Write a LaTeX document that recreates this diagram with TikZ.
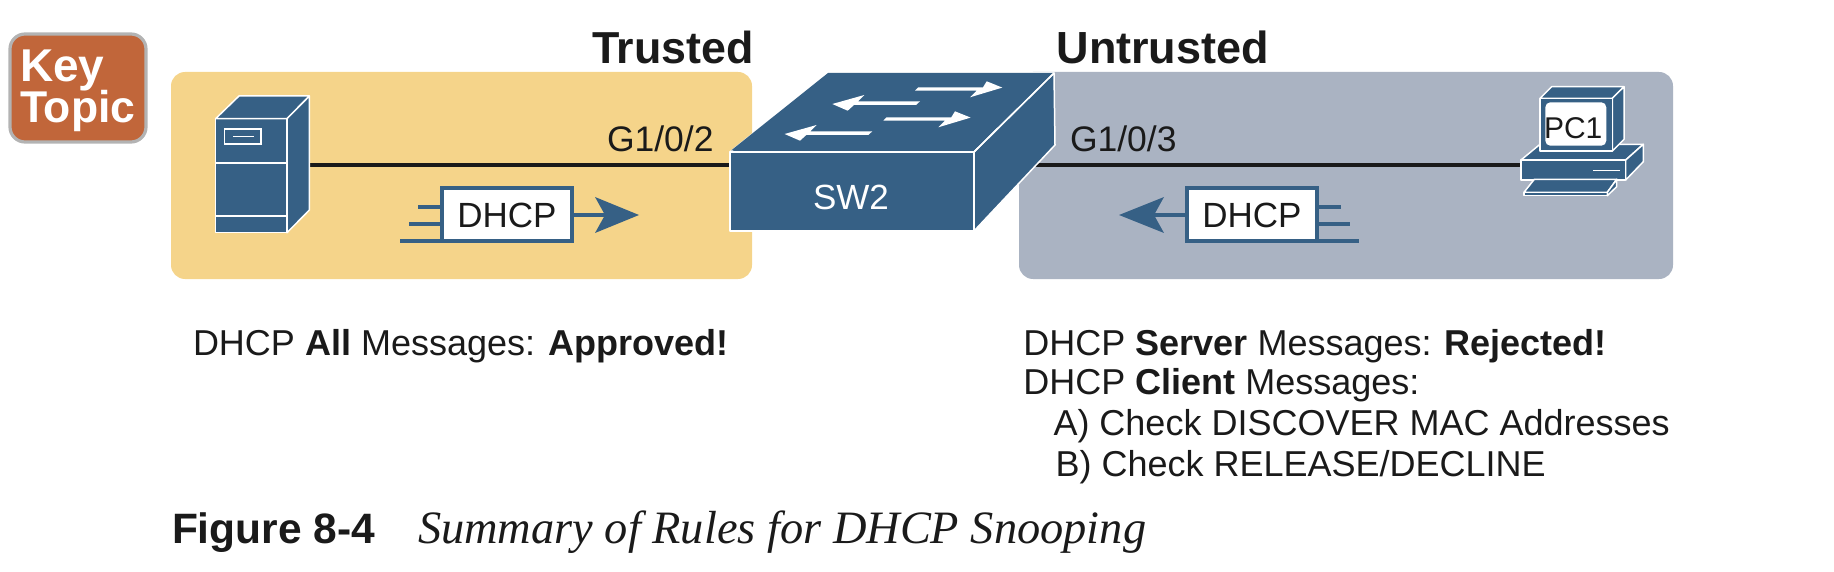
\documentclass[tikz,border=0pt]{standalone}
\usepackage{fontspec}
\setmainfont{Liberation Sans}
\newfontfamily\capserif{Liberation Serif}
\definecolor{ciscoblue}{HTML}{366085}
\definecolor{paneltrust}{HTML}{F5D48A}
\definecolor{paneluntrust}{HTML}{AAB3C2}
\definecolor{keyfill}{HTML}{C1663A}
\definecolor{keyedge}{HTML}{B3B3B3}
\definecolor{ink}{HTML}{1A1A1A}
\newcommand{\fs}[1]{\fontsize{#1}{#1}\selectfont}
\tikzset{
  panel/.style={rounded corners=14pt,draw=none},
  icon/.style={fill=ciscoblue,draw=white,line width=1.5pt,line join=round},
  iconline/.style={draw=white,line width=1.5pt},
  wire/.style={draw=ink,line width=4.4pt},
  stub/.style={draw=ciscoblue,line width=4pt},
  msgbox/.style={fill=white,draw=ciscoblue,line width=4pt,outer sep=0pt},
  lbl/.style={anchor=base west,inner sep=0pt,outer sep=0pt,text=ink},
  lblw/.style={anchor=base west,inner sep=0pt,outer sep=0pt,text=white},
  swarrow/.style={fill=white,draw=none},
  msgarrow/.style={fill=ciscoblue,draw=none}
}
\begin{document}
\begin{tikzpicture}[x=1pt,y=-1pt]
\useasboundingbox (0,0) rectangle (1834,572);
% key topic
\draw[fill=keyfill,draw=keyedge,line width=3.2pt,rounded corners=15pt] (10,34) rectangle (146,142);
\node[lblw] (keyA) at (20,82) {\fs{46}\bfseries Key};
\node[lblw] (keyB) at (20,122.5) {\fs{44.5}\bfseries Topic};
% panels
\fill[paneltrust,panel] (171,72) rectangle (752,279);
\fill[paneluntrust,panel] (1019,72) rectangle (1673,279);
% titles
\node[lbl] (trusted) at (592,63.5) {\fs{44.8}\bfseries Trusted};
\node[lbl] (untrusted) at (1056.5,63.5) {\fs{45}\bfseries Untrusted};
% anchors for wires
\coordinate (srvport) at (309,165);
\coordinate (swleft) at (730,165);
\coordinate (swright) at (1025,165);
\coordinate (pcport) at (1521,165);
\draw[wire] (srvport) -- (swleft);
\draw[wire] (swright) -- (pcport);
% server
\draw[icon] (215.6,118.7) rectangle (287,232.7);
\draw[icon] (215.6,118.7) -- (239,96) -- (309.4,96) -- (287,118.7) -- cycle;
\draw[icon] (287,118.7) -- (309.4,96) -- (309.4,210) -- (287,232.7) -- cycle;
\draw[iconline] (215.6,163) -- (287,163);
\draw[iconline] (215.6,216) -- (287,216);
\draw[iconline] (224.5,129) rectangle (261,144);
\draw[iconline] (233,136.5) -- (253.6,136.5);
% switch
\draw[icon] (730,152) -- (828,73) -- (1054,73) -- (974,152) -- cycle;
\draw[icon] (974,152) -- (1054,73) -- (1055,145) -- (974,231) -- cycle;
\draw[icon] (730,152) rectangle (974,231);
\fill[ciscoblue] (731,150.5) -- (828,73) -- (1054,73) -- (1052,74) -- (973,150.5) -- cycle;
\draw[white,line width=1.5pt] (1054,73) -- (974,152);
\draw[white,line width=1.5pt] (730,152) -- (974,152);
\fill[swarrow] (915,90.7) -- (918.3,87.3) -- (983,87.3) -- (986.7,81.3) -- (1002.3,87.6) -- (970,97.3) -- (976.7,90.7) -- cycle;
\fill[swarrow,shift={(-31.7,30)}] (915,90.7) -- (918.3,87.3) -- (983,87.3) -- (986.7,81.3) -- (1002.3,87.6) -- (970,97.3) -- (976.7,90.7) -- cycle;
\fill[swarrow] (832.3,104) -- (864.3,95) -- (858,101.3) -- (920,101.3) -- (916,105) -- (854,105) -- (847.7,110.7) -- cycle;
\fill[swarrow,shift={(-47.7,30)}] (832.3,104) -- (864.3,95) -- (858,101.3) -- (920,101.3) -- (916,105) -- (854,105) -- (847.7,110.7) -- cycle;
\node[lblw,anchor=base] (sw2) at (851,210) {\fs{35}SW2};
% port labels
\node[lbl] (g2) at (607,152) {\fs{35.5}G1/0/2};
\node[lbl] (g3) at (1070,152) {\fs{35.5}G1/0/3};
% left message
\draw[stub] (418,207) -- (441,207);
\draw[stub] (409,224) -- (441,224);
\draw[stub] (400,241.5) -- (441,241.5);
\node[msgbox,minimum width=130pt,minimum height=53pt,inner sep=0pt,anchor=north west] (msgL) at (442,188) {};
\node[lbl,anchor=base] (msgLt) at (msgL.center |- 0,228) {\fs{35}DHCP};
\coordinate (msgLtail) at (606,215);
\draw[stub] (msgL.east |- msgLtail) -- (msgLtail);
\fill[msgarrow] (639,215) -- (595,197) -- (605,215) -- (595,233) -- cycle;
% right message
\draw[stub] (1318,207) -- (1341,207);
\draw[stub] (1318,224) -- (1350,224);
\draw[stub] (1318,241.5) -- (1359,241.5);
\node[msgbox,minimum width=130pt,minimum height=53pt,inner sep=0pt,anchor=north west] (msgR) at (1187,188) {};
\node[lbl,anchor=base] (msgRt) at (msgR.center |- 0,228) {\fs{35}DHCP};
\coordinate (msgRtail) at (1153,215);
\draw[stub] (msgR.west |- msgRtail) -- (msgRtail);
\fill[msgarrow] (1119,215) -- (1164,197) -- (1154,215) -- (1164,233) -- cycle;
% PC
\draw[icon] (1540,144.3) -- (1643.3,144.3) -- (1625.7,160) -- (1521,160) -- cycle;
\draw[icon] (1625.7,160) -- (1643.3,144.3) -- (1643.3,161.7) -- (1625.7,180) -- cycle;
\draw[icon] (1521,160) rectangle (1625.7,180);
\draw[iconline] (1593.3,170.7) -- (1620,170.7);
\draw[icon] (1540,98.3) -- (1551.7,86.7) -- (1624,86.7) -- (1612.3,98.3) -- cycle;
\draw[icon] (1612.3,98.3) -- (1624,86.7) -- (1624,139.3) -- (1612.3,151) -- cycle;
\draw[icon] (1540,98.3) rectangle (1612.3,151);
\fill[white,rounded corners=5pt] (1545.3,102.3) rectangle (1606.3,145.7);
\draw[icon] (1534.3,179.3) -- (1616.7,179.3) -- (1607.3,192.3) -- (1524,192.3) -- cycle;
\draw[icon] (1524,192.3) rectangle (1607.3,195.7);
\draw[icon] (1607.3,192.3) -- (1616.7,179.3) -- (1616.7,186.7) -- (1607.3,195.7) -- cycle;
\node[lbl] (pc1) at (1544,138.3) {\fs{30}PC1};
% rule text
\node[lbl] (ruleL) at (193,355) {\fs{36}DHCP \textbf{All} Messages: \textbf{Approved!}};
\node[lbl] (ruleR1) at (1023.4,355) {\fs{36}DHCP \textbf{Server} Messages: \textbf{Rejected!}};
\node[lbl] (ruleR2) at (1023.4,394.5) {\fs{36}DHCP \textbf{Client} Messages:};
\node[lbl] (ruleR3) at (1053.5,435) {\fs{36}A) Check DISCOVER MAC Addresses};
\node[lbl] (ruleR4) at (1055.6,476) {\fs{36}B) Check RELEASE/DECLINE};
% caption
\node[lbl] (figno) at (172,543) {\fs{42.5}\bfseries Figure 8-4};
\node[lbl] (figcap) at (418,543) {\capserif\itshape\fs{46.4}Summary of Rules for DHCP Snooping};
\end{tikzpicture}
\end{document}
